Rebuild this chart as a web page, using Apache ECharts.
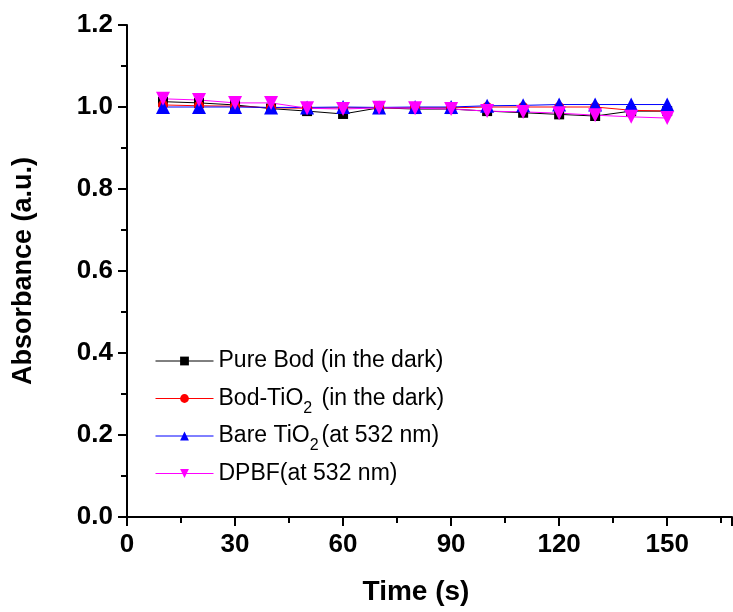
<!DOCTYPE html>
<html><head><meta charset="utf-8">
<script src="https://cdn.jsdelivr.net/npm/echarts@6/dist/echarts.min.js"></script>
<style>html,body{margin:0;padding:0;background:#fff}#c{width:733px;height:612px}</style>
</head><body><div id="c"></div>
<script>
const times = [10,20,30,40,50,60,70,80,90,100,110,120,130,140,150];
const pureBod = [1.013,1.010,1.005,0.996,0.990,0.983,0.998,0.995,0.995,0.990,0.986,0.982,0.978,0.990,0.990];
const bodTiO2 = [1.005,1.003,1.002,0.998,0.997,0.998,0.998,0.998,0.998,1.000,1.000,1.000,1.000,0.992,0.990];
const bareTiO2 = [1.000,1.000,1.000,0.999,0.999,1.000,0.999,1.000,1.000,1.003,1.004,1.006,1.006,1.006,1.006];
const dpbf = [1.020,1.017,1.010,1.010,0.997,0.995,0.998,0.997,0.995,0.990,0.988,0.985,0.980,0.976,0.973];
const names = ['Pure Bod (in the dark)','Bod-TiO2 (in the dark)','Bare TiO2(at 532 nm)','DPBF(at 532 nm)'];
const xTicks = {min:0, max:168, interval:30};
const yTicks = {min:0, max:1.2, interval:0.2};

const font = '"Liberation Sans", Arial, sans-serif';
const downTri = 'path://M0,0 L10,0 L5,9 Z';
function mk(name, data, color, symbol, size){
  return {name, type:'line', data: times.map((t,i)=>[t,data[i]]), symbol, symbolSize:size,
    lineStyle:{color, width:1}, itemStyle:{color}, z: 2};
}
const chart = echarts.init(document.getElementById('c'), null, {renderer:'canvas'});
chart.setOption({
  animation:false,
  backgroundColor:'#fff',
  grid:{left:127, top:25, right:1, bottom:95},
  xAxis:{type:'value', min:xTicks.min, max:xTicks.max, interval:xTicks.interval,
    name:'Time (s)', nameLocation:'middle', nameGap:61,
    nameTextStyle:{fontFamily:font, fontWeight:'bold', fontSize:28, color:'#000', padding:[0,27,0,0]},
    axisLine:{lineStyle:{color:'#000', width:2}},
    axisTick:{inside:false, length:9, lineStyle:{width:2, color:'#000'}},
    minorTick:{show:true, splitNumber:2, length:6, lineStyle:{width:2, color:'#000'}},
    axisLabel:{fontFamily:font, fontWeight:'bold', fontSize:26, color:'#000', margin:15, showMaxLabel:false},
    splitLine:{show:false}},
  yAxis:{type:'value', min:yTicks.min, max:yTicks.max, interval:yTicks.interval,
    name:'Absorbance (a.u.)', nameLocation:'middle', nameGap:90,
    nameTextStyle:{fontFamily:font, fontWeight:'bold', fontSize:27, color:'#000'},
    axisLine:{show:true, lineStyle:{color:'#000', width:2}},
    axisTick:{show:true, inside:false, length:9, lineStyle:{width:2, color:'#000'}},
    minorTick:{show:true, splitNumber:2, length:6, lineStyle:{width:2, color:'#000'}},
    axisLabel:{fontFamily:font, fontWeight:'bold', fontSize:26, color:'#000', margin:14,
      formatter:v=>v.toFixed(1)},
    splitLine:{show:false}},
  legend:{orient:'vertical', left:150, top:338, itemGap:1.5, itemWidth:58, itemHeight:11,
    data:names,
    lineStyle:{width:1},
    formatter:function(n){
      if(n.indexOf('TiO2')>=0){
        const parts = n.split('TiO2');
        return '{a|'+parts[0]+'TiO}{s|2}{a|'+parts[1]+'}';
      }
      return '{a|'+n+'}';
    },
    textStyle:{fontFamily:font, fontSize:23, color:'#000', lineHeight:36,
      rich:{a:{fontFamily:font, fontSize:23, color:'#000', lineHeight:36},
            s:{fontFamily:font, fontSize:16, color:'#000', lineHeight:2, verticalAlign:'bottom', padding:[0,3,0,0]}}}},
  series:[
    mk(names[0], pureBod, '#000000', 'rect', 10),
    mk(names[1], bodTiO2, '#ff0000', 'circle', 10),
    mk(names[2], bareTiO2, '#0000ff', 'triangle', 14),
    mk(names[3], dpbf, '#ff00ff', downTri, 14)
  ]
});
</script></body></html>
